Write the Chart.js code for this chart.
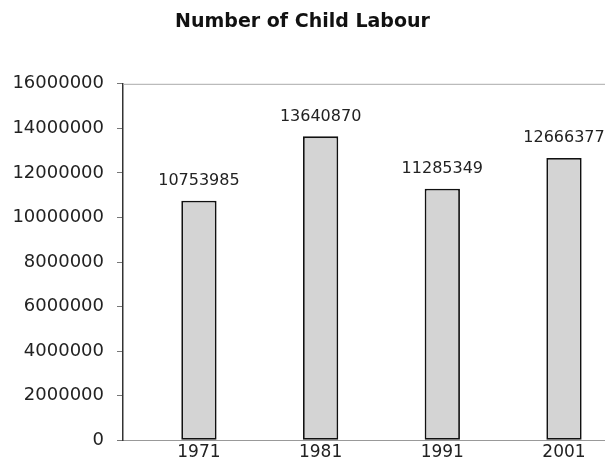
<!DOCTYPE html>
<html>
<head>
<meta charset="utf-8">
<script src="https://cdn.jsdelivr.net/npm/chart.js@4.4.0/dist/chart.umd.min.js"></script>
<style>
html,body{margin:0;padding:0;background:#fff;}
#wrap{width:605px;height:464px;position:relative;}
</style>
</head>
<body>
<div id="wrap"><canvas id="c" width="605" height="464"></canvas></div>
<script>
const years = ["1971", "1981", "1991", "2001"];
const childLabour = [10753985, 13640870, 11285349, 12666377];
const yMin = 0, yMax = 16000000, yStep = 2000000;

const FONT = '"DejaVu Sans", "Liberation Sans", Arial, sans-serif';

const points = years.map((y, i) => ({ x: i, y: childLabour[i] }));

const labelPlugin = {
  id: 'labels',
  afterDatasetsDraw(chart) {
    const ctx = chart.ctx;
    const meta = chart.getDatasetMeta(0);
    ctx.save();
    ctx.font = '16px ' + FONT;
    ctx.fillStyle = '#222';
    ctx.textAlign = 'center';
    ctx.textBaseline = 'bottom';
    meta.data.forEach((bar, i) => {
      ctx.fillText(String(childLabour[i]), bar.x, bar.y - 12);
    });
    ctx.restore();
  },
  beforeDatasetsDraw(chart) {
    const ctx = chart.ctx;
    const a = chart.chartArea;
    ctx.save();
    ctx.strokeStyle = '#aaa';
    ctx.lineWidth = 1;
    ctx.beginPath();
    ctx.moveTo(a.left, a.top + 0.5);
    ctx.lineTo(a.right, a.top + 0.5);
    ctx.stroke();
    ctx.restore();
  }
};

new Chart(document.getElementById('c'), {
  type: 'bar',
  data: {
    datasets: [{
      data: points,
      backgroundColor: '#d4d4d4',
      borderColor: '#111',
      borderWidth: 1.8,
      borderSkipped: false,
      categoryPercentage: 1.0,
      barPercentage: 0.29
    }]
  },
  options: {
    responsive: false,
    animation: false,
    layout: { padding: { left: 0, right: 0, top: 0, bottom: 0 } },
    plugins: {
      legend: { display: false },
      tooltip: { enabled: false },
      title: {
        display: true,
        text: 'Number of Child Labour',
        font: { family: FONT, size: 19, weight: 'bold' },
        color: '#111',
        padding: { top: 11, bottom: 50 }
      }
    },
    scales: {
      x: {
        type: 'linear',
        offset: false,
        min: -0.624,
        max: 3.337,
        grid: { display: false, drawTicks: false, offset: false },
        border: { display: true, color: '#999', width: 1 },
        ticks: {
          stepSize: 1,
          includeBounds: false,
          autoSkip: false,
          maxRotation: 0,
          font: { family: FONT, size: 17 },
          color: '#222',
          padding: 2,
          callback: v => (Number.isInteger(v) && years[v] !== undefined) ? years[v] : ''
        },
        afterFit: s => { s.height = 21.5; }
      },
      y: {
        min: yMin,
        max: yMax,
        grid: { drawOnChartArea: false, tickLength: 6, color: '#777' },
        border: { display: true, color: '#333', width: 1.5 },
        ticks: {
          stepSize: yStep,
          font: { family: FONT, size: 18 },
          color: '#222',
          padding: 13,
          callback: v => String(v)
        },
        afterFit: s => { s.width = 123; }
      }
    }
  },
  plugins: [labelPlugin]
});
</script>
</body>
</html>
